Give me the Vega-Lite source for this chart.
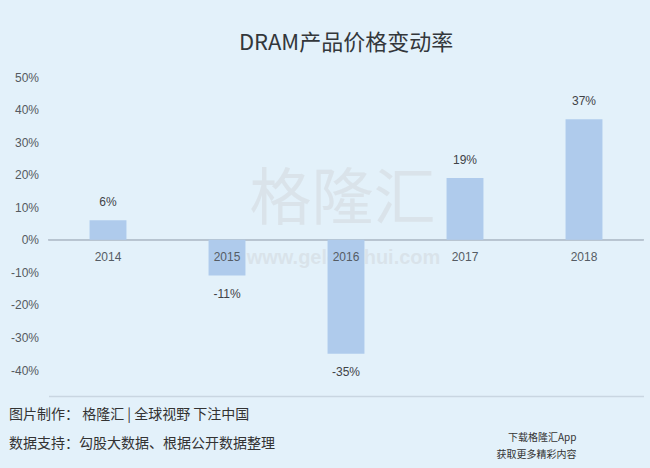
{
  "$schema": "https://vega.github.io/schema/vega-lite/v6.json",
  "width": 595,
  "height": 293,
  "autosize": {"type": "none"},
  "padding": {"left": 48.5, "top": 77, "right": 6.5, "bottom": 98},
  "background": "#e3f1fa",
  "config": {
    "view": {"stroke": null},
    "font": "Liberation Sans",
    "locale": {"number": {"decimal": ".", "thousands": ",", "grouping": [3], "currency": ["", ""], "minus": "-"}}
  },
  "title": {
    "text": "DRAM产品价格变动率",
    "font": "Noto Sans CJK SC",
    "fontSize": 22,
    "fontWeight": "normal",
    "color": "#33373b",
    "anchor": "middle",
    "offset": 16
  },
  "data": {
    "values": [
      {"year": "2014", "value": 0.06},
      {"year": "2015", "value": -0.11},
      {"year": "2016", "value": -0.35},
      {"year": "2017", "value": 0.19},
      {"year": "2018", "value": 0.37}
    ]
  },
  "resolve": {"axis": {"x": "independent", "y": "independent"}},
  "layer": [
    {
      "mark": {"type": "rule", "color": "#b7c4d0", "strokeWidth": 1.5},
      "encoding": {
        "y": {"datum": 0, "type": "quantitative", "axis": null}
      }
    },
    {
      "mark": {"type": "bar", "color": "#afcbec"},
      "encoding": {
        "x": {
          "field": "year", "type": "nominal",
          "scale": {"paddingInner": 0.69, "paddingOuter": 0.345},
          "axis": {
            "orient": "bottom", "labels": false, "ticks": false,
            "domain": true, "domainColor": "#c9d6e1", "domainWidth": 1.5, "offset": 26,
            "title": ["图片制作：  格隆汇 | 全球视野 下注中国", "数据支持：勾股大数据、根据公开数据整理"],
            "titleX": -40, "titleY": 11, "titleAlign": "left", "titleBaseline": "top",
            "titleFont": "Noto Sans CJK SC", "titleFontSize": 14, "titleFontWeight": "normal",
            "titleColor": "#333333", "titleLineHeight": 29
          }
        },
        "y": {
          "field": "value", "type": "quantitative",
          "scale": {"domain": [-0.4, 0.5], "nice": false},
          "axis": {
            "format": ".0%", "values": [-0.4, -0.3, -0.2, -0.1, 0, 0.1, 0.2, 0.3, 0.4, 0.5],
            "labelColor": "#555a60", "labelFontSize": 12, "labelPadding": 10,
            "ticks": false, "domain": false, "grid": false,
            "title": "格隆汇", "titleAngle": 0, "titleX": 293.5, "titleY": 123,
            "titleAlign": "center", "titleBaseline": "middle",
            "titleFont": "Noto Sans CJK SC", "titleFontSize": 62, "titleFontWeight": "normal",
            "titleColor": "#d3dae0", "titleOpacity": 0.6
          }
        }
      }
    },
    {
      "transform": [{"filter": "datum.value >= 0"}],
      "mark": {"type": "text", "dy": -18, "baseline": "middle", "fontSize": 12, "color": "#3f4347"},
      "encoding": {
        "x": {"field": "year", "type": "nominal", "axis": null},
        "y": {"field": "value", "type": "quantitative", "axis": null},
        "text": {"field": "value", "type": "quantitative", "format": ".0%"}
      }
    },
    {
      "transform": [{"filter": "datum.value < 0"}],
      "mark": {"type": "text", "dy": 18, "baseline": "middle", "fontSize": 12, "color": "#3f4347"},
      "encoding": {
        "x": {"field": "year", "type": "nominal", "axis": null},
        "y": {"field": "value", "type": "quantitative", "axis": null},
        "text": {"field": "value", "type": "quantitative", "format": ".0%"}
      }
    },
    {
      "mark": {"type": "text", "dy": 17, "baseline": "middle", "fontSize": 12, "color": "#555c64"},
      "encoding": {
        "x": {
          "field": "year", "type": "nominal",
          "axis": {
            "orient": "top", "labels": false, "ticks": false, "domain": false,
            "title": "www.gelonghui.com", "titleX": 294.5, "titleY": 180,
            "titleAlign": "center", "titleBaseline": "middle",
            "titleFontSize": 20, "titleFontWeight": "bold",
            "titleColor": "#d3dae0", "titleOpacity": 0.6
          }
        },
        "y": {
          "datum": 0, "type": "quantitative",
          "axis": {
            "orient": "right", "labels": false, "ticks": false, "domain": false, "grid": false,
            "title": ["下载格隆汇App", "获取更多精彩内容"],
            "titleAngle": 0, "titleX": -67.5, "titleY": 355,
            "titleAlign": "right", "titleBaseline": "top",
            "titleFont": "Noto Sans CJK SC", "titleFontSize": 10, "titleFontWeight": "normal",
            "titleColor": "#333333", "titleLineHeight": 17
          }
        },
        "text": {"field": "year", "type": "nominal"}
      }
    }
  ]
}
